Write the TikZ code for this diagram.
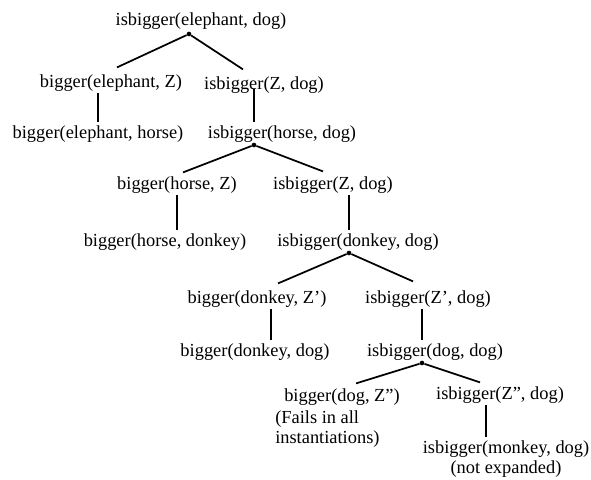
\documentclass[tikz,border=0pt]{standalone}
\usepackage{fontspec}
\setmainfont{Liberation Serif}
\usetikzlibrary{calc}

\begin{document}
\begin{tikzpicture}[x=0.75pt, y=-0.75pt,
    every node/.style={font=\fontsize{13.8pt}{15.5pt}\selectfont, inner sep=0pt},
    term/.style={anchor=base, text height=10pt, text depth=0pt},
    note/.style={anchor=north, align=center},
    fork/.style={circle, fill, minimum size=3.5pt},
    link/.style={line width=1.3pt},
    vlink/.style={line width=1.3pt, shorten <=4.5pt, shorten >=2pt}]
    \useasboundingbox (0,0) rectangle (591,479);
    \node[term] (root) at (201,25) {isbigger(elephant, dog)};
    \node[fork] (d1) at (189,34) {};
    \node[term] (bEZ) at (111,87) {bigger(elephant, Z)};
    \node[term] (iZ1) at (264,89) {isbigger(Z, dog)};
    \node[term] (bEH) at (98,138) {bigger(elephant, horse)};
    \node[term] (iHD) at (282,138) {isbigger(horse, dog)};
    \node[fork] (d2) at (254,145) {};
    \node[term] (bHZ) at (177,189) {bigger(horse, Z)};
    \node[term] (iZ2) at (333,189) {isbigger(Z, dog)};
    \node[term] (bHD) at (165,246) {bigger(horse, donkey)};
    \node[term] (iDD) at (358,246) {isbigger(donkey, dog)};
    \node[fork] (d3) at (349,253) {};
    \node[term] (bDZ) at (257,303) {bigger(donkey, Z’)};
    \node[term] (iZ3) at (428,303) {isbigger(Z’, dog)};
    \node[term] (bDD) at (255,356) {bigger(donkey, dog)};
    \node[term] (iGG) at (435,356) {isbigger(dog, dog)};
    \node[fork] (d4) at (422,363) {};
    \node[term] (bGZ) at (342,401) {bigger(dog, Z”)};
    \node[note, anchor=north west, align=left] (fail) at (275,410) {(Fails in all\\instantiations)};
    \node[term] (iZ4) at (500,399) {isbigger(Z”, dog)};
    \node[note] (iMD) at (506,440) {isbigger(monkey, dog)\\(not expanded)};
    \draw[link] (d1) -- ($(bEZ.north)+(6,-6)$);
    \draw[link] (d1) -- ($(iZ1.north)+(-21,-6)$);
    \draw[vlink] (bEZ.south -| bEH) -- (bEH.north);
    \draw[vlink, shorten <=0pt] (iZ1.south -| d2) -- (iHD.north -| d2);
    \draw[link] (d2) -- ($(bHZ.north)+(6,-3)$);
    \draw[link] (d2) -- ($(iZ2.north)+(-10,-4)$);
    \draw[vlink] (bHZ.south) -- (bHD.north -| bHZ);
    \draw[vlink] (iZ2.south -| d3) -- (iDD.north -| d3);
    \draw[link] (d3) -- ($(bDZ.north)+(21,-6)$);
    \draw[link] (d3) -- ($(iZ3.north)+(-15,-8)$);
    \draw[vlink] ($(bDZ.south)+(14,0)$) -- ($(bDD.north)+(16,0)$);
    \draw[vlink] (iZ3.south -| d4) -- (iGG.north -| d4);
    \draw[link] (d4) -- ($(bGZ.north)+(14,-4)$);
    \draw[link] (d4) -- ($(iZ4.north)+(-20,-3)$);
    \draw[vlink] ($(iZ4.south)+(-14,0)$) -- ($(iMD.north)+(-20,0)$);
\end{tikzpicture}
\end{document}
